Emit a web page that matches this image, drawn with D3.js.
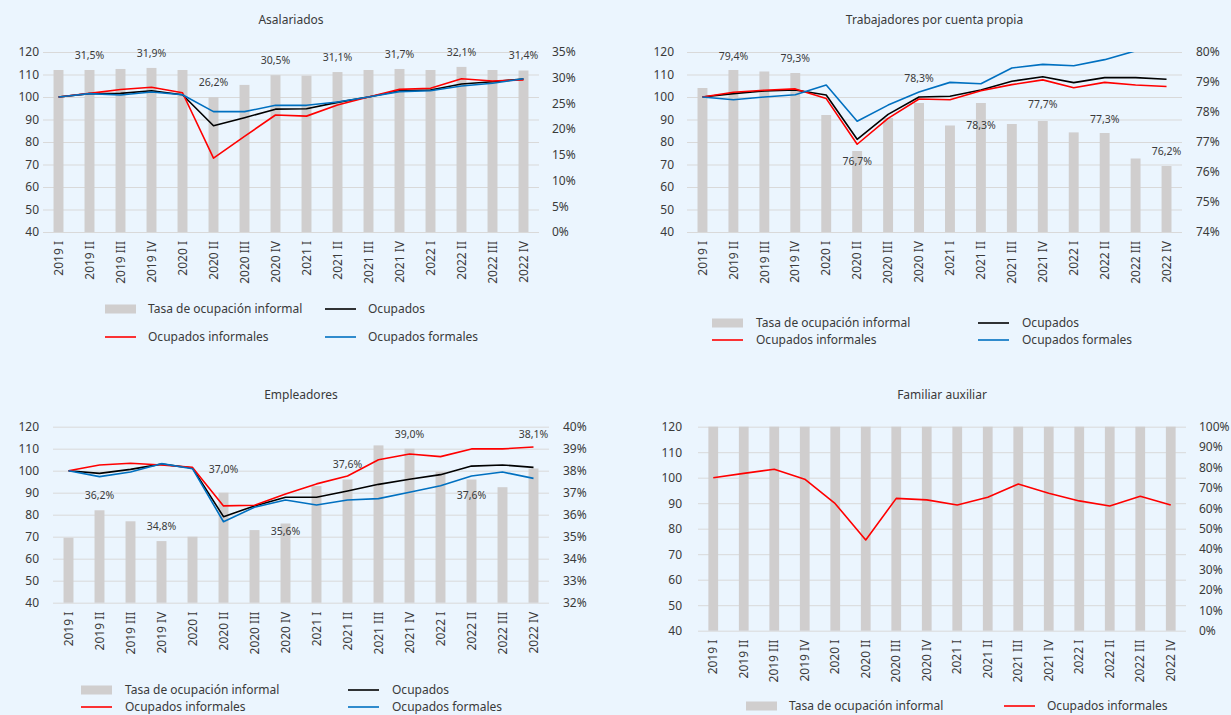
<!DOCTYPE html>
<html>
<head>
<meta charset="utf-8">
<script src="https://cdn.jsdelivr.net/npm/d3@7"></script>
<style>
  body { margin: 0; background: #ebf5fe; }
  svg { display: block; font-family: "Noto Sans", sans-serif; }
</style>
</head>
<body>
<svg id="chart" width="1231" height="715"></svg>
<script>
const quarters = ['2019 I', '2019 II', '2019 III', '2019 IV', '2020 I', '2020 II', '2020 III', '2020 IV',
  '2021 I', '2021 II', '2021 III', '2021 IV', '2022 I', '2022 II', '2022 III', '2022 IV'];

// Asalariados
const asalTasa = [31.5, 31.5, 31.7, 31.9, 31.5, 26.2, 28.6, 30.5, 30.4, 31.1, 31.5, 31.7, 31.5, 32.1, 31.5, 31.4];
const asalOcup = [100, 101.5, 101.6, 102.8, 101.0, 87.2, 90.8, 94.6, 94.8, 97.6, 100.0, 102.8, 103.1, 105.8, 106.8, 108.0];
const asalInf = [100, 101.6, 103.3, 104.3, 101.9, 72.8, 82.5, 92.0, 91.5, 96.4, 100.0, 103.4, 103.9, 108.1, 107.1, 107.6];
const asalFor = [100, 101.5, 100.9, 102.2, 101.0, 93.5, 93.5, 96.3, 96.3, 97.8, 100.0, 102.4, 102.8, 104.9, 106.1, 108.1];

// Trabajadores por cuenta propia
const cpTasa = [78.8, 79.4, 79.35, 79.3, 77.9, 76.7, 77.8, 78.3, 77.55, 78.3, 77.6, 77.7, 77.32, 77.3, 76.45, 76.2];
const cpOcup = [100, 101.5, 102.7, 103.1, 100.9, 81.2, 92.3, 100.0, 100.3, 103.1, 107.0, 109.0, 106.4, 108.6, 108.6, 107.9];
const cpInf = [100, 102.1, 103.0, 103.6, 99.3, 79.0, 90.5, 99.1, 98.8, 102.8, 105.5, 107.6, 104.1, 106.5, 105.3, 104.7];
const cpFor = [100, 98.8, 100.0, 101.0, 105.3, 89.2, 96.4, 102.2, 106.5, 105.9, 112.9, 114.5, 113.9, 116.6, 120.5, 122.0];

// Empleadores
const empTasa = [34.95, 36.2, 35.7, 34.8, 35.0, 37.0, 35.3, 35.6, 37.3, 37.6, 39.15, 39.0, 37.95, 37.6, 37.25, 38.1];
const empOcup = [100, 98.8, 100.6, 103.0, 101.2, 79.1, 84.0, 87.9, 87.9, 90.8, 93.8, 96.1, 98.2, 102.1, 102.6, 101.5];
const empInf = [100, 102.6, 103.4, 102.6, 101.5, 84.0, 84.3, 89.4, 94.0, 97.6, 105.0, 107.6, 106.4, 109.9, 109.9, 110.8];
const empFor = [100, 97.3, 99.4, 103.2, 100.9, 76.8, 83.4, 86.7, 84.4, 86.7, 87.3, 90.2, 93.2, 97.6, 99.4, 96.5];

// Familiar auxiliar
const famTasa = [100, 100, 100, 100, 100, 100, 100, 100, 100, 100, 100, 100, 100, 100, 100, 100];
const famInf = [100, 101.7, 103.3, 99.4, 89.8, 75.6, 91.9, 91.3, 89.3, 92.3, 97.5, 93.9, 90.9, 88.9, 92.7, 89.3];

const labelledQuarters = [1, 3, 5, 7, 9, 11, 13, 15];

const COLOR = {
  bar: '#d0cece', ocup: '#000000', inf: '#ff0000', form: '#0070c0',
  grid: '#d9d9d9', text: '#3a3a3a'
};
const LEGEND_TEXT = {
  bar: 'Tasa de ocupación informal', ocup: 'Ocupados',
  inf: 'Ocupados informales', form: 'Ocupados formales'
};

const fmt = d3.formatLocale({ decimal: ',', thousands: '.', grouping: [3], currency: ['', ''] }).format('.1f');

const panels = [
  {
    title: 'Asalariados', box: { l: 43, r: 539, t: 52, b: 232 },
    rightDomain: [0, 35], rightTicks: 7, padL: 4, padR: 13,
    bars: asalTasa, lines: [['ocup', asalOcup], ['inf', asalInf], ['form', asalFor]],
    labelDy: [-15, -15, -15, -15, -15, -15, -15, -15],
    legend: { rows: [309, 337], cols: [105, 325], textGap: 43, items: [['bar', 'ocup'], ['inf', 'form']] }
  },
  {
    title: 'Trabajadores por cuenta propia', box: { l: 687, r: 1182, t: 52, b: 232 },
    rightDomain: [74, 80], rightTicks: 6, padL: 13, padR: 14,
    bars: cpTasa, lines: [['ocup', cpOcup], ['inf', cpInf], ['form', cpFor]],
    labelDy: [-14, -15, 10, -25, 22, -17, -14, -15],
    legend: { rows: [323, 340], cols: [712, 978], textGap: 44, items: [['bar', 'ocup'], ['inf', 'form']] }
  },
  {
    title: 'Empleadores', box: { l: 53, r: 549, t: 426.7, b: 602.7 },
    rightDomain: [32, 40], rightTicks: 8, padL: 14, padR: 14,
    bars: empTasa, lines: [['ocup', empOcup], ['inf', empInf], ['form', empFor]],
    labelDy: [-15, -15, -23, 8, -15, -14, 16, -34],
    legend: { rows: [690, 707], cols: [81, 348], textGap: 44, items: [['bar', 'ocup'], ['inf', 'form']] }
  },
  {
    title: 'Familiar auxiliar', box: { l: 698, r: 1186, t: 426.7, b: 630.7 },
    rightDomain: [0, 100], rightTicks: 10, padL: 16, padR: 13,
    bars: famTasa, lines: [['inf', famInf]],
    labelDy: null,
    legend: { rows: [706], cols: [746, 1004], textGap: 43, items: [['bar', 'inf']] }
  }
];

const svg = d3.select('#chart');

panels.forEach((p, pi) => {
  const { l, r, t, b } = p.box;
  const g = svg.append('g');

  const x = d3.scaleBand().domain(quarters).range([l, r]).paddingInner(0.68).paddingOuter(0.34);
  const yL = d3.scaleLinear().domain([40, 120]).range([b, t]);
  const yR = d3.scaleLinear().domain(p.rightDomain).range([b, t]);
  const cx = q => x(q) + x.bandwidth() / 2;

  // title
  g.append('text')
    .attr('x', (l + r) / 2).attr('y', t - 28)
    .attr('text-anchor', 'middle').attr('font-size', 12).attr('fill', COLOR.text)
    .text(p.title);

  // gridlines
  const grid = g.append('g').attr('transform', `translate(${l},0)`)
    .call(d3.axisLeft(yL).ticks(8).tickSize(-(r - l)).tickFormat(''));
  grid.select('.domain').remove();
  grid.selectAll('line').attr('stroke', COLOR.grid);

  // left axis labels
  const axL = g.append('g').attr('transform', `translate(${l},0)`)
    .call(d3.axisLeft(yL).ticks(8).tickSize(0).tickPadding(p.padL));
  axL.select('.domain').remove();
  axL.selectAll('text').attr('font-size', 12).attr('fill', COLOR.text).attr('font-family', 'Noto Sans');

  // right axis labels
  const axR = g.append('g').attr('transform', `translate(${r},0)`)
    .call(d3.axisRight(yR).ticks(p.rightTicks).tickSize(0).tickPadding(p.padR).tickFormat(d => d + '%'));
  axR.select('.domain').remove();
  axR.selectAll('text').attr('font-size', 12).attr('fill', COLOR.text).attr('font-family', 'Noto Sans');

  // bars
  g.append('g').selectAll('rect').data(p.bars).join('rect')
    .attr('x', (d, i) => x(quarters[i]))
    .attr('width', x.bandwidth())
    .attr('y', d => yR(d))
    .attr('height', d => b - yR(d))
    .attr('fill', COLOR.bar);

  // category labels
  g.append('g').selectAll('text').data(quarters).join('text')
    .attr('transform', q => `translate(${cx(q)},${b + 9}) rotate(-90)`)
    .attr('dy', '0.35em').attr('text-anchor', 'end')
    .attr('font-size', 12).attr('fill', COLOR.text)
    .text(q => q);

  // lines
  const clipId = `clip-${pi}`;
  g.append('clipPath').attr('id', clipId)
    .append('rect').attr('x', l).attr('y', t).attr('width', r - l).attr('height', b - t);
  const line = d3.line().x((d, i) => cx(quarters[i])).y(d => yL(d));
  p.lines.forEach(([key, values]) => {
    g.append('path').datum(values)
      .attr('clip-path', `url(#${clipId})`)
      .attr('d', line)
      .attr('fill', 'none')
      .attr('stroke', COLOR[key])
      .attr('stroke-width', 1.6)
      .attr('stroke-linejoin', 'round');
  });

  // data labels on alternate quarters
  if (p.labelDy) {
    g.append('g').selectAll('text').data(labelledQuarters).join('text')
      .attr('x', i => cx(quarters[i]))
      .attr('y', (i, k) => yR(p.bars[i]) + p.labelDy[k])
      .attr('dy', '0.35em').attr('text-anchor', 'middle')
      .attr('font-size', 10.5).attr('fill', COLOR.text)
      .text(i => fmt(p.bars[i]) + '%');
  }

  // legend
  const lg = p.legend;
  lg.items.forEach((row, ri) => {
    row.forEach((key, ci) => {
      const lx = lg.cols[ci], ly = lg.rows[ri];
      if (key === 'bar') {
        g.append('rect').attr('x', lx).attr('y', ly - 4.5).attr('width', 31).attr('height', 9).attr('fill', COLOR.bar);
      } else {
        g.append('line').attr('x1', lx).attr('x2', lx + 31).attr('y1', ly).attr('y2', ly)
          .attr('stroke', COLOR[key]).attr('stroke-width', 1.6);
      }
      g.append('text').attr('x', lx + lg.textGap).attr('y', ly).attr('dy', '0.35em')
        .attr('font-size', 12).attr('fill', COLOR.text).text(LEGEND_TEXT[key]);
    });
  });
});
</script>
</body>
</html>
